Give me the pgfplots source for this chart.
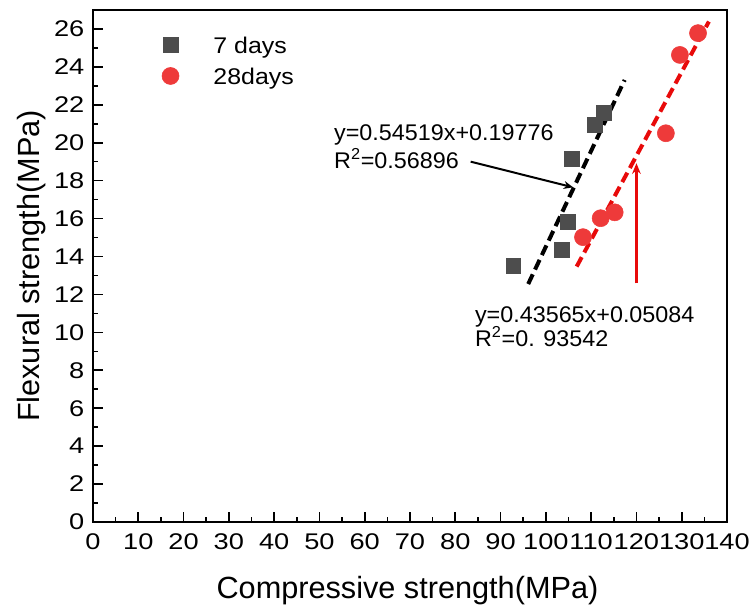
\documentclass[border=0pt]{standalone}
\usepackage{fontspec}
\setmainfont{Liberation Sans}
\newfontfamily\tickfont[FakeStretch=1.2]{Liberation Sans}
\newfontfamily\legfont[FakeStretch=1.1]{Liberation Sans}
\newfontfamily\anfont[FakeStretch=1.03]{Liberation Sans}
\usepackage{pgfplots}
\pgfplotsset{compat=1.18}
\usetikzlibrary{arrows.meta}
\definecolor{sq}{RGB}{77,77,77}
\definecolor{ci}{RGB}{238,58,58}
\definecolor{rl}{RGB}{232,10,10}
\begin{document}
\begin{tikzpicture}
\path[use as bounding box] (-69.75pt,-62.25pt) rectangle (494.25pt,391.5pt);
\begin{axis}[
  scale only axis, width=475.5pt, height=384pt,
  xmin=0, xmax=140, ymin=0, ymax=27,
  xtick={0,10,...,140}, ytick={0,2,...,26},
  minor x tick num=1, minor y tick num=1,
  xtick pos=lower, ytick pos=left,
  tick align=inside, major tick length=7.5pt, minor tick length=3.75pt,
  axis line style={line width=1.2pt},
  every tick/.style={line width=1.2pt, black},
  /pgf/number format/assume math mode=true,
  ticklabel style={font=\tickfont\fontsize{17}{20}\selectfont},
  xticklabel style={yshift=-5pt},
  yticklabel style={xshift=-3pt},
  xlabel={Compressive strength(MPa)},
  ylabel={Flexural strength(MPa)},
  label style={font=\fontsize{23}{27}\selectfont},
  xlabel style={at={(axis description cs:0.496,-0.150)}, anchor=base},
  ylabel style={at={(axis description cs:-0.0836,0.5)}, anchor=base},
  legend style={at={(axis description cs:0.1067,0.949)}, anchor=north west,
    draw=none, fill=none, inner sep=0pt, row sep=7.3pt,
    font=\legfont\fontsize{17}{20}\selectfont,
    nodes={inner sep=0pt, text height=12.5pt, text depth=3.5pt}},
  legend cell align=left,
  legend image code/.code={\path (-7pt,0pt) (32pt,0pt); \draw[#1] plot coordinates {(0pt,1.8pt)};},
]
\addplot[only marks, mark=square*, mark size=5.6pt, mark options={fill=sq, draw=sq}]
  coordinates {(92.8,13.52) (103.5,14.35) (104.8,15.84) (105.7,19.13) (110.8,20.94) (112.8,21.56)};
\addlegendentry{7 days}
\addplot[only marks, mark=*, mark size=6.4pt, mark options={fill=ci, draw=ci}]
  coordinates {(108.2,15.02) (112.1,16.02) (115.2,16.33) (126.5,20.50) (129.6,24.63) (133.6,25.78)};
\addlegendentry{28days}
% fit lines
\addplot[forget plot, black, line width=3pt, dash pattern=on 8pt off 4pt] coordinates {(96.1,12.55) (117.4,23.31)};
\addplot[forget plot, rl, line width=3pt, dash pattern=on 8pt off 4pt] coordinates {(106.8,13.47) (136.0,26.39)};
% arrows
\addplot[forget plot, black, line width=1.5pt, -{Stealth[length=7pt,width=6pt]}] coordinates {(83.4,19.0) (106.0,17.65)};
\addplot[forget plot, rl, line width=2pt, -{Stealth[length=8pt,width=6.5pt]}] coordinates {(120.0,12.59) (120.0,18.92)};
% texts
\node[anchor=base west, inner sep=0pt, text depth=0pt, font=\anfont\fontsize{17}{20}\selectfont] at (axis cs:53.2,20.1) {y=0.54519x+0.19776};
\node[anchor=base west, inner sep=0pt, font=\anfont\fontsize{17}{20}\selectfont] at (axis cs:53.2,18.65) {R\textsuperscript{2}=0.56896};
\node[anchor=base west, inner sep=0pt, text depth=0pt, font=\anfont\fontsize{17}{20}\selectfont] at (axis cs:84.3,10.51) {y=0.43565x+0.05084};
\node[anchor=base west, inner sep=0pt, font=\anfont\fontsize{17}{20}\selectfont] at (axis cs:84.3,9.28) {R\textsuperscript{2}=0. 93542};
\end{axis}
\end{tikzpicture}
\end{document}
